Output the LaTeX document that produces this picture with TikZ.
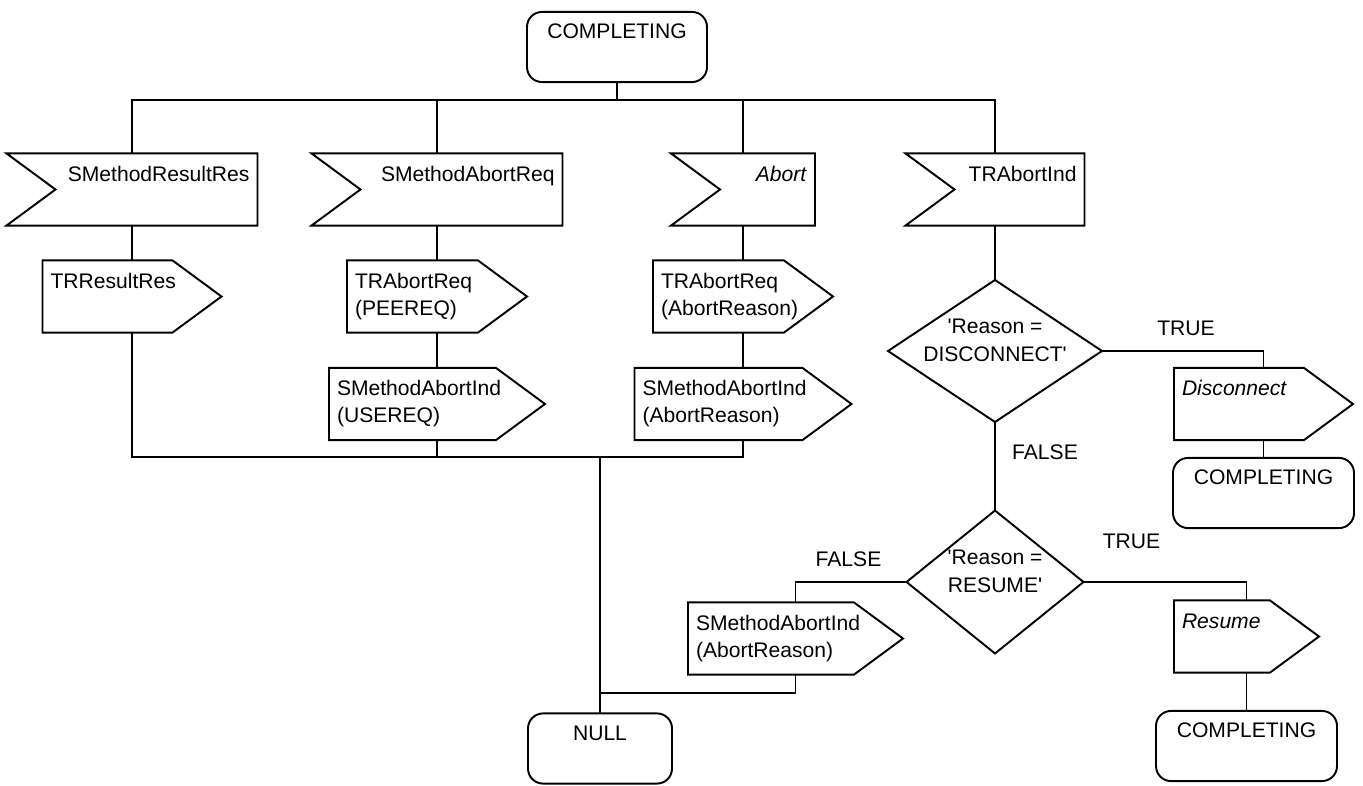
\documentclass[tikz,border=0pt]{standalone}
\usepackage{fontspec}
\setmainfont{Liberation Sans}

% two text lines, top aligned in the symbol
\newcommand{\sdl}[2]{\strut #1\\\strut #2}

\begin{document}
\begin{tikzpicture}[line width=1.1pt,
  every node/.style={font=\fontsize{12}{15.4}\selectfont},
  sdlbox/.style={text width=#1, inner xsep=0.16cm, inner ysep=0.18cm, outer sep=0pt},
  insig/.style={sdlbox=#1, align=right},
  outsig/.style={sdlbox=#1, align=left},
  state/.style={draw, rounded corners=0.3cm, text width=#1, inner xsep=0.16cm, inner ysep=0.16cm, outer sep=0pt, align=center},
  decision/.style 2 args={minimum width=#1, minimum height=#2, inner sep=0pt, outer sep=0pt, align=center}]
  \useasboundingbox (0,0) rectangle (27.26,15.7);

  % states
  \node[state=3.28cm] (sTop) at (12.34,14.76) {\sdl{COMPLETING}{}};
  \node[state=2.56cm] (sNull) at (12.0,0.73) {\sdl{NULL}{}};
  \node[state=3.30cm] (sDisc) at (25.27,5.84) {\sdl{COMPLETING}{}};
  \node[state=3.30cm] (sRes) at (24.93,0.78) {\sdl{COMPLETING}{}};

  % inputs
  \node[insig=4.70cm] (inRes) at (2.64,11.91) {\sdl{SMethodResultRes}{}};
  \node[insig=4.70cm] (inAbReq) at (8.74,11.91) {\sdl{SMethodAbortReq}{}};
  \node[insig=2.56cm] (inAbort) at (14.86,11.91) {\sdl{\textit{Abort}}{}};
  \node[insig=3.26cm] (inTRInd) at (19.90,11.91) {\sdl{TRAbortInd}{}};

  % outputs
  \node[outsig=3.26cm] (oTRRes) at (2.64,9.77) {\sdl{TRResultRes}{}};
  \node[outsig=3.28cm] (oTRAbPeer) at (8.74,9.77) {\sdl{TRAbortReq}{(PEEREQ)}};
  \node[outsig=4.00cm] (oSMAIUser) at (8.74,7.62) {\sdl{SMethodAbortInd}{(USEREQ)}};
  \node[outsig=3.28cm] (oTRAbReason) at (14.86,9.77) {\sdl{TRAbortReq}{(AbortReason)}};
  \node[outsig=4.02cm] (oSMAIReason) at (14.86,7.62) {\sdl{SMethodAbortInd}{(AbortReason)}};
  \node[outsig=3.26cm] (oDisc) at (25.27,7.62) {\sdl{\textit{Disconnect}}{}};
  \node[outsig=2.58cm] (oResume) at (24.93,2.97) {\sdl{\textit{Resume}}{}};
  \node[outsig=3.98cm] (oSMAILow) at (15.91,2.93) {\sdl{SMethodAbortInd}{(AbortReason)}};

  % decisions
  \node[decision={4.28cm}{2.84cm}] (dDisc) at (19.90,8.68)
    {\textquotesingle Reason =\\DISCONNECT\textquotesingle\rule[-0.43cm]{0pt}{0pt}};
  \node[decision={3.54cm}{2.86cm}] (dResume) at (19.90,4.06)
    {\textquotesingle Reason =\\RESUME\textquotesingle\rule[-0.43cm]{0pt}{0pt}};

  \node (tDisc) at (23.72,9.14) {TRUE};
  \node (fDisc) at (20.90,6.66) {FALSE};
  \node (tRes) at (22.63,4.88) {TRUE};
  \node (fRes) at (16.97,4.51) {FALSE};

  % symbol outlines
  \foreach \n in {inRes,inAbReq,inAbort,inTRInd}
    \draw (\n.north west) -- (\n.north east) -- (\n.south east) -- (\n.south west)
      -- ([xshift=0.98cm]\n.west) -- cycle;
  \foreach \n in {oTRRes,oTRAbPeer,oSMAIUser,oTRAbReason,oSMAIReason,oDisc,oResume,oSMAILow}
    \draw (\n.north west) -- ([xshift=-0.98cm]\n.north east) -- (\n.east)
      -- ([xshift=-0.98cm]\n.south east) -- (\n.south west) -- cycle;
  \foreach \n in {dDisc,dResume}
    \draw (\n.north) -- (\n.east) -- (\n.south) -- (\n.west) -- cycle;

  % flow lines
  \coordinate (busTop) at (12.34,13.7);
  \coordinate (jn) at (12.0,6.56);
  \coordinate (jn2) at (12.0,1.84);
  \draw (sTop) -- (busTop);
  \draw (inRes) |- (busTop) -| (inTRInd);
  \draw (inAbReq) -- (inAbReq |- busTop);
  \draw (inAbort) -- (inAbort |- busTop);
  \draw (inRes) -- (oTRRes) |- (jn) -| (oSMAIReason);
  \draw (inAbReq) -- (oTRAbPeer) -- (oSMAIUser) -- (oSMAIUser |- jn);
  \draw (inAbort) -- (oTRAbReason) -- (oSMAIReason);
  \draw (jn) -- (sNull);
  \draw (inTRInd) -- (dDisc) -- (dResume);
  \draw (dDisc) -| (oDisc) -- (sDisc);
  \draw (dResume) -| (oResume) -- (sRes);
  \draw (dResume) -| (oSMAILow) |- (jn2);
\end{tikzpicture}
\end{document}
